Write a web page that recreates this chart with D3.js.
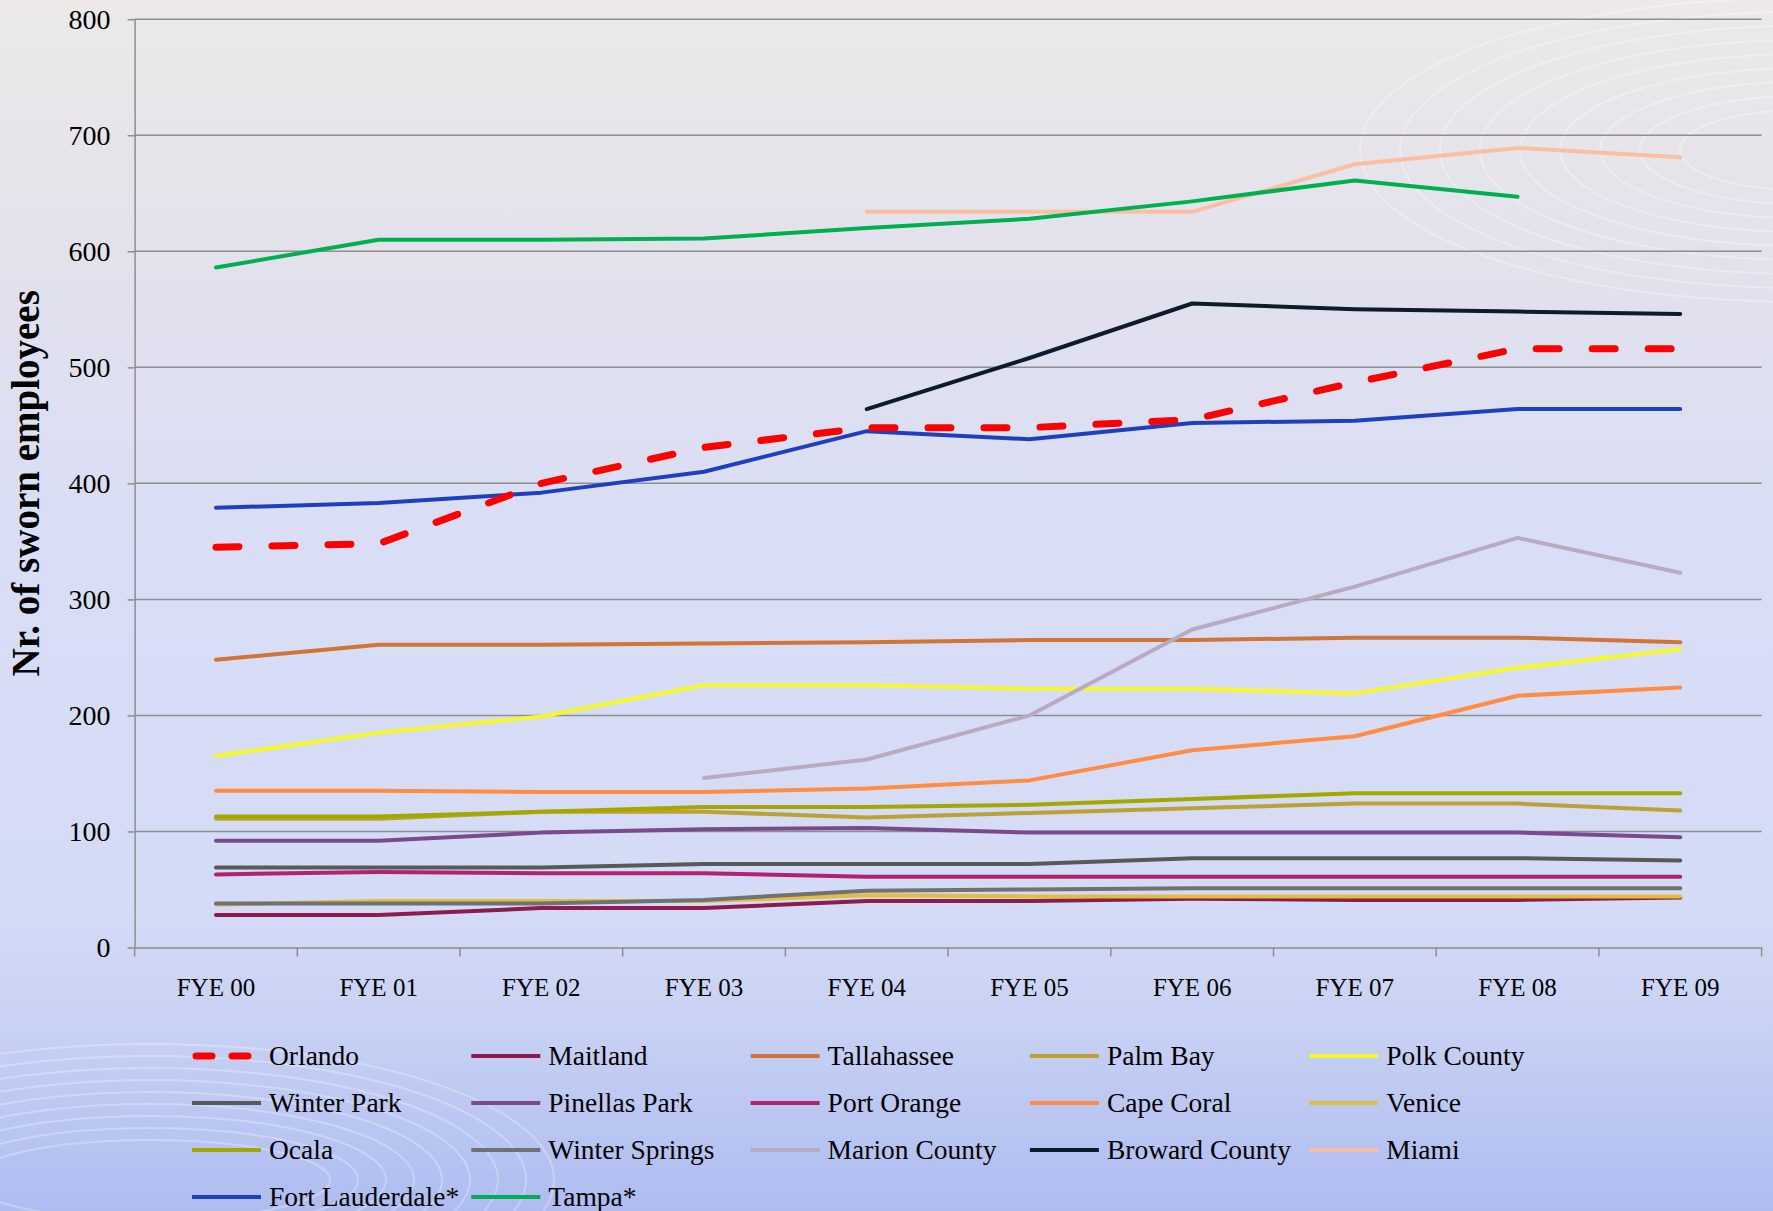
<!DOCTYPE html>
<html>
<head>
<meta charset="utf-8">
<script src="https://cdn.jsdelivr.net/npm/d3@7"></script>
<style>
  html, body { margin: 0; padding: 0; }
  body { width: 1773px; height: 1211px; overflow: hidden; }
  svg text { font-family: 'Liberation Serif', 'Times New Roman', serif; fill: #000; }
</style>
</head>
<body>
<svg id="chart" width="1773" height="1211"></svg>
<script>
// categories and tick labels
const categories = ['FYE 00', 'FYE 01', 'FYE 02', 'FYE 03', 'FYE 04', 'FYE 05', 'FYE 06', 'FYE 07', 'FYE 08', 'FYE 09'];
const yTicks = [0, 100, 200, 300, 400, 500, 600, 700, 800];

// series values (null = no data)
const orlando        = [345, 348, 400, 431, 448, 448, 455, 487, 516, 516];
const maitland       = [28, 28, 34, 34, 40, 40, 42, 41, 41, 43];
const tallahassee    = [248, 261, 261, 262, 263, 265, 265, 267, 267, 263];
const palmBay        = [111, 111, 117, 117, 112, 116, 120, 124, 124, 118];
const polkCounty     = [165, 185, 199, 226, 226, 223, 223, 219, 241, 257];
const winterPark     = [69, 69, 69, 72, 72, 72, 77, 77, 77, 75];
const pinellasPark   = [92, 92, 99, 102, 103, 99, 99, 99, 99, 95];
const portOrange     = [63, 65, 64, 64, 61, 61, 61, 61, 61, 61];
const capeCoral      = [135, 135, 134, 134, 137, 144, 170, 182, 217, 224];
const venice         = [37, 40, 40, 40, 45, 44, 44, 44, 44, 44];
const ocala          = [113, 113, 117, 121, 121, 123, 128, 133, 133, 133];
const winterSprings  = [38, 38, 38, 41, 49, 50, 51, 51, 51, 51];
const marionCounty   = [null, null, null, 146, 162, 200, 274, 311, 353, 323];
const browardCounty  = [null, null, null, null, 464, 508, 555, 550, 548, 546];
const miami          = [null, null, null, null, 634, 634, 634, 675, 689, 681];
const fortLauderdale = [379, 383, 392, 410, 445, 438, 452, 454, 464, 464];
const tampa          = [586, 610, 610, 611, 620, 628, 643, 661, 647, null];

const series = [
    {name: 'Orlando', values: orlando, color: '#FF0000', dashed: true},
    {name: 'Maitland', values: maitland, color: '#8E1A52'},
    {name: 'Tallahassee', values: tallahassee, color: '#D07438'},
    {name: 'Palm Bay', values: palmBay, color: '#BCA235'},
    {name: 'Polk County', values: polkCounty, color: '#F7F72C'},
    {name: 'Winter Park', values: winterPark, color: '#595959'},
    {name: 'Pinellas Park', values: pinellasPark, color: '#7A4A8B'},
    {name: 'Port Orange', values: portOrange, color: '#B3236B'},
    {name: 'Cape Coral', values: capeCoral, color: '#FF8C42'},
    {name: 'Venice', values: venice, color: '#DFC03E'},
    {name: 'Ocala', values: ocala, color: '#A3A800'},
    {name: 'Winter Springs', values: winterSprings, color: '#717171'},
    {name: 'Marion County', values: marionCounty, color: '#BBA9C2'},
    {name: 'Broward County', values: browardCounty, color: '#0D1B2A'},
    {name: 'Miami', values: miami, color: '#FABEA2'},
    {name: 'Fort Lauderdale*', values: fortLauderdale, color: '#1E40C0'},
    {name: 'Tampa*', values: tampa, color: '#00B050'}
];

const width = 1773, height = 1211;
const plotLeft = 134.6, plotRight = 1761.6, plotTop = 19.2, plotBottom = 947.5;
const gridColor = '#8E8E8E';

const svg = d3.select('#chart');

// background
const defs = svg.append('defs');
const grad = defs.append('linearGradient')
    .attr('id', 'bg').attr('x1', 0).attr('y1', 0).attr('x2', 0).attr('y2', 1);
[['0%', '#ECE9E8'], ['22%', '#E2E1EC'], ['45%', '#D9DEF6'], ['75%', '#D4DBF6'], ['85%', '#C7D1F4'], ['100%', '#AEBCF0']]
    .forEach(s => grad.append('stop').attr('offset', s[0]).attr('stop-color', s[1]));
svg.append('rect').attr('width', width).attr('height', height).attr('fill', 'url(#bg)');

// faint wave decoration
const deco = svg.append('g').attr('fill', 'none').attr('stroke', '#FFFFFF').attr('stroke-width', 2);
d3.range(9).forEach(k => {
    deco.append('ellipse')
        .attr('cx', 150).attr('cy', 1180)
        .attr('rx', 180 + k * 28).attr('ry', 40 + k * 12)
        .attr('opacity', 0.28);
    deco.append('ellipse')
        .attr('cx', 1800).attr('cy', 150)
        .attr('rx', 120 + k * 40).attr('ry', 40 + k * 14)
        .attr('opacity', 0.3);
});

const x = d3.scaleBand().domain(categories).range([plotLeft, plotRight]);
const y = d3.scaleLinear().domain([0, 800]).range([plotBottom, plotTop]);

// gridlines
svg.append('g')
    .selectAll('line')
    .data(yTicks.filter(t => t > 0))
    .enter().append('line')
    .attr('x1', plotLeft).attr('x2', plotRight)
    .attr('y1', d => y(d)).attr('y2', d => y(d))
    .attr('stroke', gridColor).attr('stroke-width', 1.5);

// y axis
const yAxis = svg.append('g')
    .attr('transform', `translate(${plotLeft},0)`)
    .call(d3.axisLeft(y).tickValues(yTicks).tickSize(7).tickSizeOuter(0).tickPadding(17));
yAxis.select('.domain').attr('stroke', gridColor).attr('stroke-width', 1.5);
yAxis.selectAll('.tick line').attr('stroke', gridColor).attr('stroke-width', 1.5);
yAxis.selectAll('.tick text')
    .attr('font-family', 'Liberation Serif, serif')
    .attr('font-size', 28).attr('dy', '0.33em');

// x axis
const xAxis = svg.append('g')
    .attr('transform', `translate(0,${plotBottom})`)
    .call(d3.axisBottom(x).tickSize(0).tickSizeOuter(0).tickPadding(31));
xAxis.select('.domain').attr('stroke', gridColor).attr('stroke-width', 1.5);
xAxis.selectAll('.tick text')
    .attr('font-family', 'Liberation Serif, serif')
    .attr('font-size', 25);
xAxis.selectAll('.bound')
    .data(d3.range(categories.length + 1))
    .enter().append('line')
    .attr('class', 'bound')
    .attr('x1', i => plotLeft + i * x.step()).attr('x2', i => plotLeft + i * x.step())
    .attr('y1', 0).attr('y2', 9)
    .attr('stroke', gridColor).attr('stroke-width', 1.5);

// axis title
svg.append('text')
    .attr('transform', `translate(25,${(plotTop + plotBottom) / 2}) rotate(-90)`)
    .attr('text-anchor', 'middle')
    .attr('dy', '0.35em')
    .attr('font-size', 39)
    .attr('font-weight', 'bold')
    .text('Nr. of sworn employees');

// lines
const line = d3.line()
    .defined(d => d.v !== null)
    .x(d => x(d.c) + x.bandwidth() / 2)
    .y(d => y(d.v));

const drawOrder = series.slice(1).concat([series[0]]);
svg.append('g')
    .selectAll('path')
    .data(drawOrder)
    .enter().append('path')
    .attr('d', s => line(s.values.map((v, i) => ({c: categories[i], v: v}))))
    .attr('fill', 'none')
    .attr('stroke', s => s.color)
    .attr('stroke-width', s => s.dashed ? 7 : 4)
    .attr('stroke-linejoin', 'round')
    .attr('stroke-linecap', 'round')
    .attr('stroke-dasharray', s => s.dashed ? '23,33' : null);

// legend
const legend = svg.append('g')
    .selectAll('g')
    .data(series)
    .enter().append('g')
    .attr('transform', (d, i) => `translate(${192 + (i % 5) * 279.3},${1056 + Math.floor(i / 5) * 47})`);

legend.append('line')
    .attr('x1', d => d.dashed ? 4 : 0).attr('x2', d => d.dashed ? 65 : 69)
    .attr('y1', 0).attr('y2', 0)
    .attr('stroke', d => d.color)
    .attr('stroke-width', d => d.dashed ? 7 : 4)
    .attr('stroke-linecap', d => d.dashed ? 'round' : 'butt')
    .attr('stroke-dasharray', d => d.dashed ? '16,20' : null);

legend.append('text')
    .attr('x', 77)
    .attr('dy', '0.33em')
    .attr('font-size', 27.5)
    .text(d => d.name);
</script>
</body>
</html>
